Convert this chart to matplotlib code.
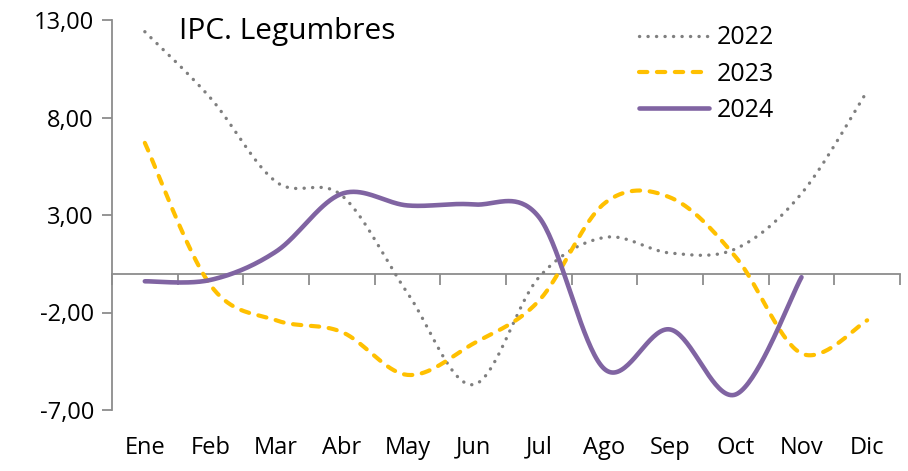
import numpy as np
import matplotlib
matplotlib.use("Agg")
import matplotlib.pyplot as plt
from matplotlib.lines import Line2D

months = ['Ene', 'Feb', 'Mar', 'Abr', 'May', 'Jun', 'Jul', 'Ago', 'Sep', 'Oct', 'Nov', 'Dic']
v2022 = [12.4, 9.0, 4.7, 4.0, -1.0, -5.7, -0.2, 1.85, 1.05, 1.27, 4.1, 9.35]
v2023 = [6.7, -0.6, -2.4, -3.0, -5.2, -3.6, -1.4, 3.6, 3.9, 0.84, -4.1, -2.4]
v2024 = [-0.4, -0.33, 1.13, 4.09, 3.49, 3.54, 2.9, -4.9, -2.87, -6.2, -0.19]
yticks = [-7, -2, 3, 8, 13]
title = 'IPC. Legumbres'

plt.rcParams['font.family'] = ['Open Sans', 'DejaVu Sans']


def smooth(ys, n=40):
    """Excel-like smoothed line: cubic Bezier with Catmull-Rom control points."""
    xs = np.arange(len(ys), dtype=float)
    ys = np.asarray(ys, dtype=float)
    P = np.column_stack([xs, ys])
    out = [P[0]]
    t = np.linspace(0, 1, n)[1:, None]
    for i in range(len(P) - 1):
        p0 = P[i - 1] if i > 0 else P[i]
        p1, p2 = P[i], P[i + 1]
        p3 = P[i + 2] if i + 2 < len(P) else P[i + 1]
        c1 = p1 + (p2 - p0) / 6.0
        c2 = p2 - (p3 - p1) / 6.0
        seg = ((1 - t) ** 3) * p1 + 3 * ((1 - t) ** 2) * t * c1 + 3 * (1 - t) * t ** 2 * c2 + t ** 3 * p2
        out.extend(seg)
    out = np.array(out)
    return out[:, 0], out[:, 1]


W, H = 908, 471
fig = plt.figure(figsize=(W / 100, H / 100), dpi=100)
ax = fig.add_axes([112 / W, 1 - 410 / H, (900 - 112) / W, (410 - 20) / H])

axis_col = '#8c8c8c'
gray = '#7f7f7f'
yellow = '#FFC000'
purple = '#8064A2'

x22, y22 = smooth(v2022)
x23, y23 = smooth(v2023)
x24, y24 = smooth(v2024)

lw_dot = 2.4
lw_dash = 3.0
lw_sol = 3.3
dot_style = (0, (0.05, 2.5))
dash_style = (0, (2.0, 2.3))

ax.plot(x22, y22, color=gray, lw=lw_dot, linestyle=dot_style, dash_capstyle='round', zorder=3)
ax.plot(x23, y23, color=yellow, lw=lw_dash, linestyle=dash_style, dash_capstyle='round', zorder=4)
ax.plot(x24, y24, color=purple, lw=lw_sol, solid_capstyle='round', zorder=5)

ax.set_xlim(-0.5, len(months) - 0.5)
ax.set_ylim(-7, 13)

# spines
for s in ['top', 'right']:
    ax.spines[s].set_visible(False)
ax.spines['left'].set_color(axis_col)
ax.spines['left'].set_linewidth(1.3)
ax.spines['bottom'].set_position(('data', 0))
ax.spines['bottom'].set_color(axis_col)
ax.spines['bottom'].set_linewidth(1.3)

ax.set_yticks(yticks)
ax.set_yticklabels([f'{v:.2f}'.replace('.', ',') for v in yticks], fontsize=17)
ax.tick_params(axis='y', length=7, width=1.3, color=axis_col, pad=6, labelcolor='black')

# x: tick marks at category boundaries, no labels there
ax.set_xticks(np.arange(len(months) + 1) - 0.5)
ax.set_xticklabels([])
ax.tick_params(axis='x', length=8, width=1.3, color=axis_col, direction='out')

for i, m in enumerate(months):
    ax.annotate(m, xy=(i, 0), xycoords=('data', 'axes fraction'),
                xytext=(0, -27), textcoords='offset points',
                ha='center', va='center', fontsize=17)

fig.text(179 / W, 1 - 32 / H, title, fontsize=21.5, ha='left', va='center')

handles = [
    Line2D([], [], color=gray, lw=lw_dot, linestyle=dot_style, dash_capstyle='round'),
    Line2D([], [], color=yellow, lw=lw_dash, linestyle=dash_style, dash_capstyle='round'),
    Line2D([], [], color=purple, lw=lw_sol, solid_capstyle='round'),
]
fig.legend(handles, ['2022', '2023', '2024'], loc='upper left',
           bbox_to_anchor=(621 / W, 1 - 8 / H), frameon=False, fontsize=18,
           handlelength=2.8, handletextpad=0.35, labelspacing=0.45, borderpad=0.2)

fig.savefig('out.png', dpi=100)
